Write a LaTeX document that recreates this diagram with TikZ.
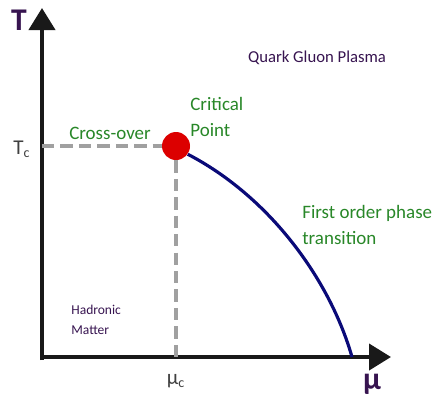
\documentclass[tikz,border=0pt]{standalone}
\usepackage{fontspec}
\setmainfont{Carlito}
\usepackage{tikz}
\usetikzlibrary{arrows.meta,positioning}
\definecolor{axispurple}{RGB}{55,20,80}
\definecolor{labelgreen}{RGB}{40,135,40}
\definecolor{linenavy}{RGB}{10,10,120}
\definecolor{pointred}{RGB}{220,0,0}
\definecolor{dashgray}{RGB}{160,160,160}

\begin{document}
\begin{tikzpicture}[x=0.02cm,y=-0.02cm]
  \tikzstyle{axis}=[line width=2.3pt,black!90,-{Triangle[length=0.44cm,width=0.52cm]}]
  \tikzstyle{axislabel}=[text=axispurple,font=\fontsize{18}{18}\selectfont\bfseries,inner sep=0pt]
  \tikzstyle{tick}=[text=black!75,font=\fontsize{12}{12}\selectfont,inner sep=0pt]
  \tikzstyle{phase}=[text=labelgreen,font=\fontsize{10.8}{15}\selectfont,align=left,inner sep=0pt]
  \tikzstyle{region}=[text=axispurple,align=left,inner sep=0pt]
  \tikzstyle{guide}=[dashgray,line width=2.2pt,dash pattern=on 7pt off 3.5pt]

  \useasboundingbox (0,0) rectangle (435,400);

  \coordinate (origin) at (42,357);
  \coordinate (ytip) at (42,8);
  \coordinate (xtip) at (391,357);
  \coordinate (tcmark) at (42,146);
  \coordinate (mucmark) at (176,357);
  \coordinate (linefoot) at (352,357);

  % axes
  \draw[axis] (42,360) -- (ytip);
  \draw[axis] (origin) -- (xtip);

  \node[axislabel] (tlabel) at (19,20) {T};
  \node[axislabel] (mulabel) at (372,384) {μ};
  \node[tick] (tc) at (22,149) {T\textsubscript{c}};
  \node[tick] (muc) at (176,381) {μ\textsubscript{c}};

  % critical point and guides
  \node[circle,fill=pointred,minimum size=0.56cm,inner sep=0pt] (cp) at (176,146) {};
  \draw[guide] (tcmark) -- (cp.west);
  \draw[guide] (cp.south) -- (mucmark);

  % first order line
  \draw[linenavy,line width=1.8pt] (cp.-35) .. controls (270,197) and (330,280) .. (linefoot);

  \node[phase] (crossover) at (110,133) {Cross-over};
  \node[phase,anchor=west] (critical) at (190,117) {Critical\\Point};
  \node[phase,anchor=west] (firstorder) at (302,225) {First order phase\\transition};
  \node[region,font=\fontsize{9.5}{11}\selectfont] (qgp) at (317,58) {Quark Gluon Plasma};
  \node[region,anchor=west,font=\fontsize{7.7}{11.5}\selectfont] (hadronic) at (71,320) {Hadronic\\Matter};
\end{tikzpicture}
\end{document}
